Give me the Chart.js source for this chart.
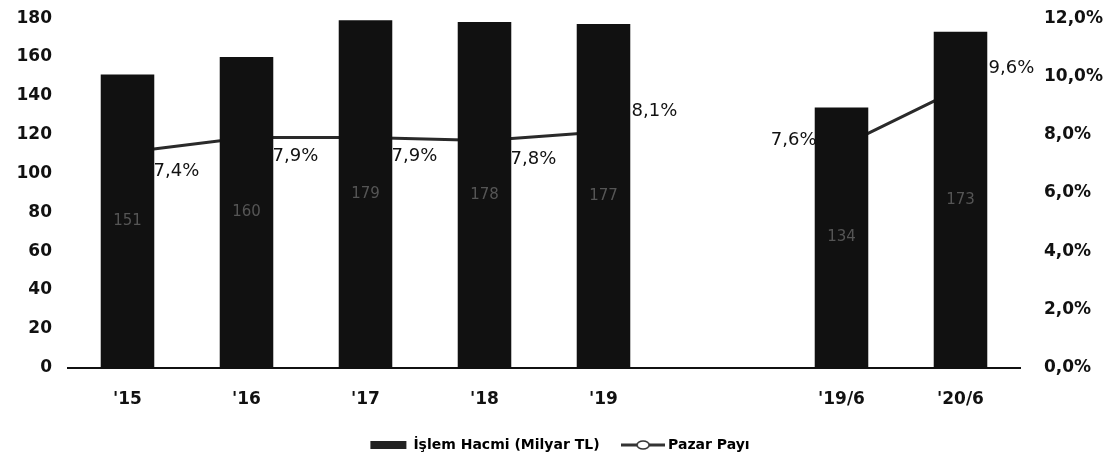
<!DOCTYPE html>
<html>
<head>
<meta charset="utf-8">
<script src="https://cdn.jsdelivr.net/npm/chart.js@4.4.1/dist/chart.umd.min.js"></script>
<style>
    html, body { margin: 0; padding: 0; background: #fff; overflow: hidden; }
    #wrap { width: 1120px; height: 491px; position: relative; margin-top: -16px; }
</style>
</head>
<body>
<div id="wrap"><canvas id="chart"></canvas></div>
<script>
// values
const categories = ["'15", "'16", "'17", "'18", "'19", "", "'19/6", "'20/6"];
const islemHacmi = [151, 160, 179, 178, 177, null, 134, 173];
const pazarPayi = [7.4, 7.9, 7.9, 7.8, 8.1, null, 7.6, 9.6];

// where each share label sits relative to its point
const shareLabelSide = ['below', 'below', 'below', 'below', 'above', null, 'left', 'above'];

const FONT = '"DejaVu Sans", Verdana, sans-serif';
const pct = v => v.toFixed(1).replace('.', ',') + '%';

// legend swatch for the line: stroke with a small open marker
const lineSwatch = document.createElement('canvas');
lineSwatch.width = 44;
lineSwatch.height = 12;
(() => {
    const c = lineSwatch.getContext('2d');
    c.strokeStyle = '#333';
    c.lineWidth = 3;
    c.beginPath(); c.moveTo(0, 6); c.lineTo(44, 6); c.stroke();
    c.fillStyle = '#fff';
    c.lineWidth = 1.5;
    c.beginPath(); c.ellipse(22, 6, 6, 4, 0, 0, Math.PI * 2); c.fill(); c.stroke();
})();

// value labels: faint numbers inside the bars, share labels next to the line
const labelPlugin = {
    id: 'labels',
    afterDatasetsDraw(chart) {
        const ctx = chart.ctx;
        const barMeta = chart.getDatasetMeta(0);
        const lineMeta = chart.getDatasetMeta(1);
        ctx.save();

        ctx.font = '15px ' + FONT;
        ctx.fillStyle = '#555';
        ctx.textAlign = 'center';
        ctx.textBaseline = 'middle';
        barMeta.data.forEach((bar, i) => {
            if (islemHacmi[i] == null) return;
            ctx.fillText(islemHacmi[i], bar.x, (bar.y + bar.base) / 2);
        });

        ctx.font = '18px ' + FONT;
        ctx.fillStyle = '#111';
        lineMeta.data.forEach((pt, i) => {
            if (pazarPayi[i] == null) return;
            const side = shareLabelSide[i];
            const text = pct(pazarPayi[i]);
            if (side === 'left') {
                ctx.textAlign = 'right';
                ctx.fillText(text, pt.x - 25, pt.y - 6);
            } else if (side === 'above') {
                ctx.textAlign = 'left';
                ctx.fillText(text, pt.x + 28, pt.y - 20);
            } else {
                ctx.textAlign = 'left';
                ctx.fillText(text, pt.x + 26, pt.y + 19);
            }
        });
        ctx.restore();
    }
};

new Chart(document.getElementById('chart'), {
    type: 'bar',
    data: {
        labels: categories,
        datasets: [
            {
                type: 'bar',
                label: 'İşlem Hacmi (Milyar TL)',
                data: islemHacmi,
                backgroundColor: '#111',
                barPercentage: 0.45,
                categoryPercentage: 1,
                yAxisID: 'y',
                order: 1
            },
            {
                type: 'line',
                label: 'Pazar Payı',
                data: pazarPayi,
                borderColor: '#2a2a2a',
                borderWidth: 3,
                pointRadius: 0,
                spanGaps: false,
                yAxisID: 'y1',
                order: 2
            }
        ]
    },
    options: {
        responsive: true,
        maintainAspectRatio: false,
        animation: false,
        layout: { padding: { top: 0, left: 0, right: 0, bottom: 13 } },
        plugins: {
            tooltip: { enabled: false },
            legend: {
                position: 'bottom',
                labels: {
                    usePointStyle: true,
                    pointStyleWidth: 36,
                    boxHeight: 8,
                    padding: 6,
                    color: '#111',
                    font: { family: FONT, size: 14, weight: 'bold' },
                    generateLabels: () => [
                        // trailing spaces keep the gap between the two entries
                        { text: 'İşlem Hacmi (Milyar TL)    ', pointStyle: 'rect', fillStyle: '#222', strokeStyle: '#222', lineWidth: 0, datasetIndex: 0 },
                        { text: 'Pazar Payı', pointStyle: lineSwatch, fillStyle: '#333', strokeStyle: '#333', lineWidth: 0, datasetIndex: 1 }
                    ]
                }
            }
        },
        scales: {
            x: {
                grid: { display: false, drawTicks: false },
                border: { display: true, color: '#111', width: 2 },
                ticks: {
                    color: '#111',
                    padding: 22,
                    font: { family: FONT, size: 17, weight: 'bold' }
                }
            },
            y: {
                position: 'left',
                min: 0,
                max: 180,
                grid: { display: false, drawTicks: false },
                border: { display: false },
                afterFit: s => { s.width = 68; },
                ticks: {
                    stepSize: 20,
                    color: '#111',
                    padding: 16,
                    font: { family: FONT, size: 17, weight: 'bold' }
                }
            },
            y1: {
                position: 'right',
                min: 0,
                max: 12,
                grid: { display: false, drawTicks: false },
                border: { display: false },
                afterFit: s => { s.width = 100; },
                ticks: {
                    stepSize: 2,
                    color: '#111',
                    padding: 24,
                    callback: v => pct(v),
                    font: { family: FONT, size: 17, weight: 'bold' }
                }
            }
        }
    },
    plugins: [labelPlugin]
});
</script>
</body>
</html>
